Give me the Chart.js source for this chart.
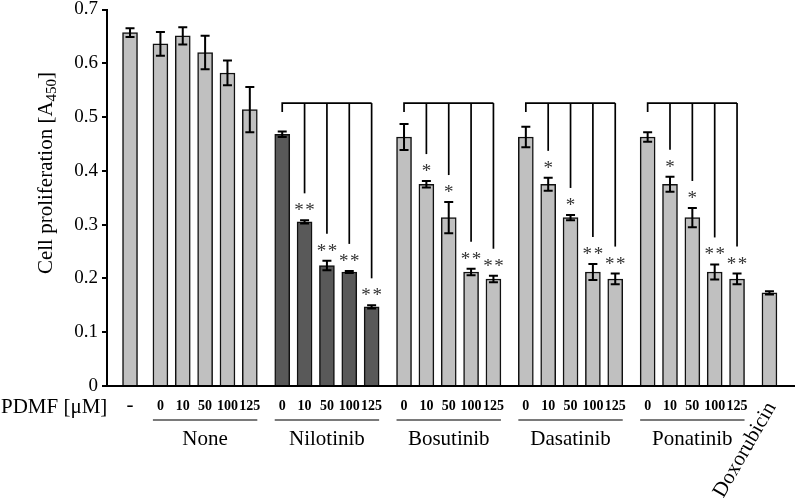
<!DOCTYPE html>
<html>
<head>
<meta charset="utf-8">
<script src="https://cdn.jsdelivr.net/npm/chart.js@4.4.0/dist/chart.umd.min.js"></script>
<style>
body { margin: 0; background: #fff; }
#wrap { width: 795px; height: 498px; }
</style>
</head>
<body>
<div id="wrap"><canvas id="grafico" width="795" height="498"></canvas></div>
<script>
// data
var groupNames = ['-', 'None', 'Nilotinib', 'Bosutinib', 'Dasatinib', 'Ponatinib', 'Doxorubicin'];
var doses = ['0', '10', '50', '100', '125'];

var valuesControl = [0.657];
var errorsControl = [0.008];
var valuesNone = [0.636, 0.651, 0.620, 0.582, 0.514];
var errorsNone = [0.022, 0.016, 0.031, 0.023, 0.042];
var valuesNilotinib = [0.468, 0.305, 0.224, 0.212, 0.147];
var errorsNilotinib = [0.005, 0.003, 0.009, 0.002, 0.003];
var valuesBosutinib = [0.463, 0.375, 0.313, 0.212, 0.199];
var errorsBosutinib = [0.024, 0.006, 0.029, 0.006, 0.006];
var valuesDasatinib = [0.463, 0.375, 0.313, 0.212, 0.199];
var errorsDasatinib = [0.019, 0.012, 0.005, 0.015, 0.010];
var valuesPonatinib = [0.463, 0.375, 0.313, 0.212, 0.199];
var errorsPonatinib = [0.009, 0.014, 0.018, 0.014, 0.010];
var valuesDoxorubicin = [0.173];
var errorsDoxorubicin = [0.003];

var starsNilotinib = ['', '**', '**', '**', '**'];
var starsOther = ['', '*', '*', '**', '**'];

var yTicks = [0, 0.1, 0.2, 0.3, 0.4, 0.5, 0.6, 0.7];

var LIGHT = '#c0c0c0';
var DARK = '#595959';
var SERIF = '"Liberation Serif", "Times New Roman", serif';

// build bar list
var groupVals = [valuesControl, valuesNone, valuesNilotinib, valuesBosutinib, valuesDasatinib, valuesPonatinib, valuesDoxorubicin];
var groupErrs = [errorsControl, errorsNone, errorsNilotinib, errorsBosutinib, errorsDasatinib, errorsPonatinib, errorsDoxorubicin];
var groupStars = [null, null, starsNilotinib, starsOther, starsOther, starsOther, null];
var groupGap = [0, 0.36, 0.45, 0.45, 0.45, 0.45, 0.45];

var points = [], errs = [], colors = [], stars = [], groupOf = [], doseOf = [];
var pos = 0;
groupVals.forEach(function(vals, g) {
    pos += groupGap[g];
    vals.forEach(function(v, i) {
        points.push({x: pos, y: v});
        errs.push(groupErrs[g][i]);
        colors.push(g === 2 ? DARK : LIGHT);
        stars.push(groupStars[g] ? groupStars[g][i] : '');
        groupOf.push(g);
        doseOf.push(vals.length === 5 ? doses[i] : '');
        pos += 1;
    });
});

var annotations = {
    id: 'annotations',
    afterDatasetsDraw: function(chart) {
        var ctx = chart.ctx;
        var ys = chart.scales.y;
        var bars = chart.getDatasetMeta(0).data;
        var starY = [];
        ctx.save();
        // error bars
        ctx.strokeStyle = '#000';
        ctx.lineWidth = 2;
        bars.forEach(function(b, i) {
            var v = points[i].y, e = errs[i];
            var top = ys.getPixelForValue(v + e), bot = ys.getPixelForValue(v - e);
            ctx.beginPath();
            ctx.moveTo(b.x, top); ctx.lineTo(b.x, bot);
            ctx.moveTo(b.x - 4.5, top); ctx.lineTo(b.x + 4.5, top);
            ctx.moveTo(b.x - 4.5, bot); ctx.lineTo(b.x + 4.5, bot);
            ctx.stroke();
            starY.push(top - 13);
        });
        // stars
        ctx.fillStyle = '#333';
        ctx.font = '19px ' + SERIF;
        ctx.textAlign = 'center';
        ctx.textBaseline = 'middle';
        bars.forEach(function(b, i) {
            if (stars[i]) ctx.fillText(stars[i].split('').join('\u200a'), b.x, starY[i] + 4);
        });
        // brackets
        ctx.strokeStyle = '#000';
        ctx.lineWidth = 1.7;
        var by = ys.getPixelForValue(0.526);
        for (var g = 2; g <= 5; g++) {
            var idx = [];
            groupOf.forEach(function(gg, i) { if (gg === g) idx.push(i); });
            var x0 = bars[idx[0]].x, x1 = bars[idx[idx.length - 1]].x;
            ctx.beginPath();
            ctx.moveTo(x0, by + 9); ctx.lineTo(x0, by); ctx.lineTo(x1, by);
            ctx.stroke();
            idx.slice(1).forEach(function(i) {
                ctx.beginPath();
                ctx.moveTo(bars[i].x, by);
                ctx.lineTo(bars[i].x, starY[i] - 14);
                ctx.stroke();
            });
        }
        // x labels
        ctx.fillStyle = '#000';
        ctx.textBaseline = 'middle';
        ctx.font = '21px ' + SERIF;
        ctx.textAlign = 'left';
        ctx.fillText('PDMF [\u03bcM]', 1, 407);
        ctx.textAlign = 'center';
        ctx.fillText('-', bars[0].x, 405);
        ctx.font = 'bold 14px ' + SERIF;
        bars.forEach(function(b, i) {
            if (doseOf[i]) ctx.fillText(doseOf[i], b.x, 406);
        });
        for (var g2 = 1; g2 <= 5; g2++) {
            var ii = [];
            groupOf.forEach(function(gg, i) { if (gg === g2) ii.push(i); });
            var xa = bars[ii[0]].x - 7.5, xb = bars[ii[ii.length - 1]].x + 7.5;
            ctx.strokeStyle = '#7a7a7a';
            ctx.lineWidth = 2;
            ctx.beginPath();
            ctx.moveTo(xa, 420); ctx.lineTo(xb, 420);
            ctx.stroke();
            ctx.font = '21px ' + SERIF;
            ctx.fillText(groupNames[g2], (xa + xb) / 2, 439);
        }
        // Doxorubicin rotated
        var dx = bars[bars.length - 1].x;
        ctx.save();
        ctx.translate(dx + 2, 404);
        ctx.rotate(-60 * Math.PI / 180);
        ctx.textAlign = 'right';
        ctx.font = '21px ' + SERIF;
        ctx.fillText(groupNames[6], 0, 0);
        ctx.restore();
        // y title with subscript
        ctx.save();
        ctx.translate(46, 173);
        ctx.rotate(-Math.PI / 2);
        var main = 'Cell proliferation [A', sub = '450', end = ']';
        ctx.font = '21px ' + SERIF;
        var w1 = ctx.measureText(main).width, w3 = ctx.measureText(end).width;
        ctx.font = '15px ' + SERIF;
        var w2 = ctx.measureText(sub).width;
        var sx = -(w1 + w2 + w3) / 2;
        ctx.textAlign = 'left';
        ctx.textBaseline = 'middle';
        ctx.font = '21px ' + SERIF;
        ctx.fillText(main, sx, 0);
        ctx.font = '15px ' + SERIF;
        ctx.fillText(sub, sx + w1, 6);
        ctx.font = '21px ' + SERIF;
        ctx.fillText(end, sx + w1 + w2, 0);
        ctx.restore();
        ctx.restore();
    }
};

var ctx = document.getElementById('grafico').getContext('2d');
var grafico = new Chart(ctx, {
    type: 'bar',
    data: {
        datasets: [{
            label: 'Cell proliferation',
            data: points,
            backgroundColor: colors,
            borderColor: '#111',
            borderWidth: 1.5,
            borderSkipped: 'bottom',
            barThickness: 15
        }]
    },
    options: {
        responsive: false,
        animation: false,
        layout: { padding: { top: 9.5, right: 0, left: 0, bottom: 0 } },
        plugins: {
            legend: { display: false },
            tooltip: { enabled: false }
        },
        scales: {
            x: {
                type: 'linear',
                min: -1.03,
                max: -1.03 + 688 / 22.35,
                offset: false,
                ticks: { display: false },
                grid: { display: false },
                border: { display: true, color: '#000', width: 2 },
                afterFit: function(s) { s.height = 112; s.paddingLeft = 0; s.paddingRight = 0; }
            },
            y: {
                min: 0,
                max: 0.7,
                afterBuildTicks: function(s) { s.ticks = yTicks.map(function(v) { return {value: v}; }); },
                ticks: {
                    color: '#000',
                    padding: 4,
                    font: { family: SERIF, size: 19 },
                    callback: function(v) { return v === 0 ? '0' : v.toFixed(1); }
                },
                grid: { drawOnChartArea: false, drawTicks: true, tickLength: 5, color: '#000', lineWidth: 2 },
                border: { display: true, color: '#000', width: 2 },
                afterFit: function(s) { s.width = 107; s.paddingTop = 0; s.paddingBottom = 0; }
            }
        }
    },
    plugins: [annotations]
});
</script>
</body>
</html>
